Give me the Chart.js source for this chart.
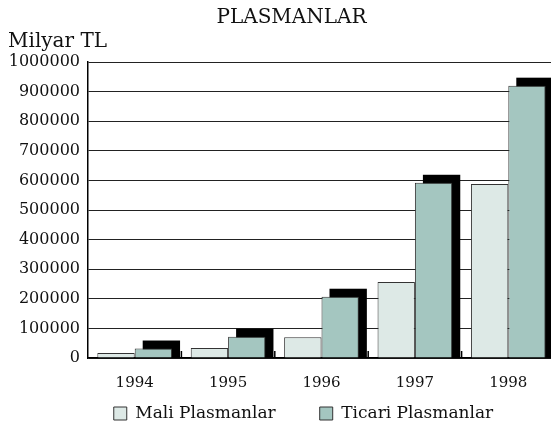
<!DOCTYPE html>
<html>
<head>
<meta charset="utf-8">
<script src="https://cdn.jsdelivr.net/npm/chart.js@4/dist/chart.umd.min.js"></script>
<style>
  html, body { margin: 0; padding: 0; background: #fff; overflow: hidden; }
  #wrap { width: 555px; height: 434px; }
</style>
</head>
<body>
<div id="wrap"><canvas id="plasmanChart" width="555" height="434"></canvas></div>
<script>
// --- Datos del gráfico ---
const years = ['1994', '1995', '1996', '1997', '1998'];
const maliPlasmanlar = [17000, 34000, 70000, 257000, 588000];
const ticariPlasmanlar = [32000, 72000, 207000, 592000, 920000];
const yTicks = [0, 100000, 200000, 300000, 400000, 500000, 600000, 700000, 800000, 900000, 1000000];

const FONT = 'DejaVu Serif';

// sombra negra detrás de las barras "Ticari"
const shadowPlugin = {
    id: 'barShadow',
    beforeDatasetsDraw(chart) {
        const meta = chart.getDatasetMeta(1);
        const ctx = chart.ctx;
        ctx.save();
        ctx.fillStyle = '#000';
        meta.data.forEach(bar => {
            const p = bar.getProps(['x', 'y', 'base', 'width'], true);
            ctx.fillRect(p.x - p.width / 2 + 8, p.y - 8, p.width, p.base - p.y + 8);
        });
        ctx.restore();
    }
};

// leyenda centrada bajo el área del gráfico, marcas entre categorías y títulos
const extrasPlugin = {
    id: 'extras',
    afterLayout(chart) {
        const lg = chart.legend;
        lg.left = 52;
        lg.top = chart.chartArea.bottom + 3;
        lg.bottom = chart.height;
        lg.height = lg.bottom - lg.top;
    },
    afterDatasetsDraw(chart) {
        const ctx = chart.ctx;
        const xs = chart.scales.x;
        const bottom = chart.chartArea.bottom;
        ctx.save();
        ctx.strokeStyle = '#000';
        ctx.lineWidth = 1.5;
        for (let i = 0; i < years.length - 1; i++) {
            const xb = (xs.getPixelForValue(i) + xs.getPixelForValue(i + 1)) / 2;
            ctx.beginPath();
            ctx.moveTo(xb, bottom - 7);
            ctx.lineTo(xb, bottom);
            ctx.stroke();
        }
        ctx.restore();
    },
    afterDraw(chart) {
        const ctx = chart.ctx;
        ctx.save();
        ctx.fillStyle = '#111';
        ctx.font = '20px "' + FONT + '"';
        ctx.textBaseline = 'alphabetic';
        ctx.textAlign = 'center';
        ctx.fillText('PLASMANLAR', 291.5, 23);
        ctx.textAlign = 'left';
        ctx.fillText('Milyar TL', 8, 47);
        ctx.restore();
    }
};

new Chart(document.getElementById('plasmanChart').getContext('2d'), {
    type: 'bar',
    data: {
        labels: years,
        datasets: [
            {
                label: 'Mali Plasmanlar',
                data: maliPlasmanlar,
                backgroundColor: '#dde9e6',
                borderColor: '#333',
                borderWidth: 1,
                categoryPercentage: 0.8,
                barPercentage: 1.0
            },
            {
                label: 'Ticari Plasmanlar',
                data: ticariPlasmanlar,
                backgroundColor: '#a4c6c0',
                borderColor: '#333',
                borderWidth: 1,
                categoryPercentage: 0.8,
                barPercentage: 1.0
            }
        ]
    },
    options: {
        responsive: false,
        animation: false,
        devicePixelRatio: 1,
        layout: { padding: { left: 0, right: 0, top: 62, bottom: 24 } },
        scales: {
            x: {
                offset: true,
                grid: { display: false },
                border: { display: true, color: '#000', width: 1.5 },
                ticks: { color: '#111', font: { family: FONT, size: 15 }, padding: 8 }
            },
            y: {
                min: 0,
                max: 1000000,
                afterBuildTicks(scale) { scale.ticks = yTicks.map(v => ({ value: v })); },
                grid: { color: '#222', lineWidth: 1, drawTicks: false },
                border: { display: true, color: '#000', width: 1.5 },
                ticks: {
                    color: '#111',
                    font: { family: FONT, size: 16 },
                    padding: 8,
                    callback: value => String(value)
                },
                afterFit(scale) { scale.width = 88; }
            }
        },
        plugins: {
            title: { display: false },
            tooltip: { enabled: false },
            legend: {
                position: 'bottom',
                maxHeight: 10,
                labels: {
                    boxWidth: 13,
                    boxHeight: 13,
                    padding: 44,
                    color: '#111',
                    font: { family: FONT, size: 17 }
                }
            }
        }
    },
    plugins: [shadowPlugin, extrasPlugin]
});
</script>
</body>
</html>
